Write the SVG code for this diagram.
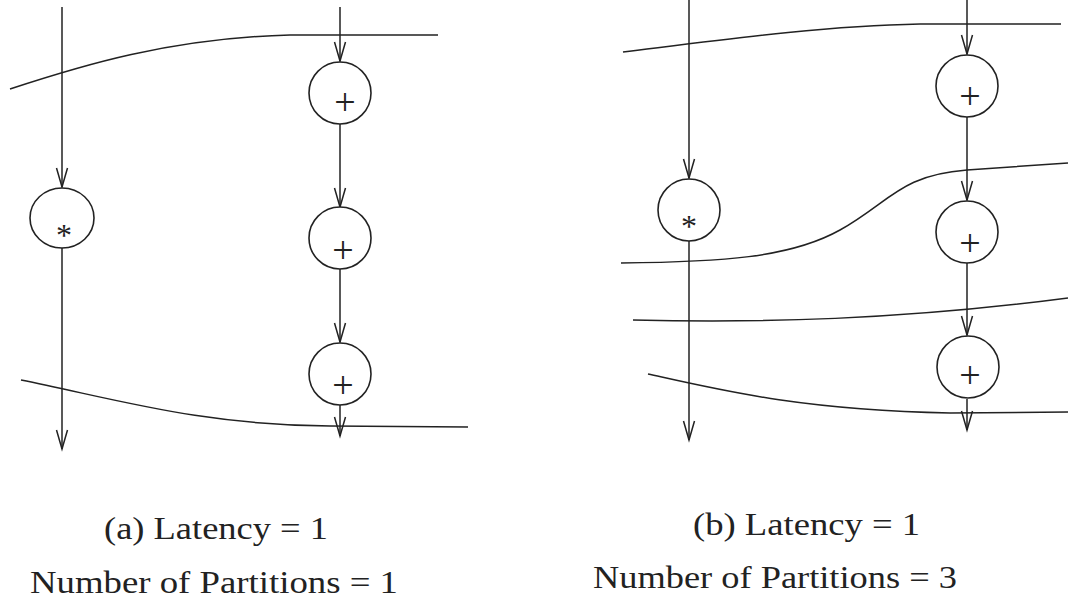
<svg xmlns="http://www.w3.org/2000/svg" width="1068" height="600" viewBox="0 0 1068 600">
  <style>
    .edge { stroke: #222; stroke-width: 1.5; fill: none; marker-end: url(#arr); }
    .part { stroke: #222; stroke-width: 1.5; fill: none; }
    .node { stroke: #222; stroke-width: 1.6; fill: #fff; }
    .op { font-family: "Liberation Serif", serif; fill: #222; text-anchor: middle; }
    .cap { font-family: "Liberation Serif", serif; font-size: 32px; fill: #222; }
  </style>
  <defs>
    <marker id="arr" markerUnits="userSpaceOnUse" viewBox="-22 -8 24 16" markerWidth="24" markerHeight="16" refX="0" refY="0" orient="auto" overflow="visible">
      <path d="M-19,-5.5 L0,0 L-19,5.5" fill="none" stroke="#222" stroke-width="1.5"/>
    </marker>
  </defs>
  <rect width="1068" height="600" fill="#fff"/>

  <g id="partitions">
    <path class="part" d="M10,89 C80,66 170,38 290,35 L438,35"/>
    <path class="part" d="M21,380 C120,400 200,425 330,426 L468,427"/>
    <path class="part" d="M623,52 C720,40 820,26 920,24 L1061,24"/>
    <path class="part" d="M621,263 C720,262 790,258 840,230 S900,175 967,170 L1068,163"/>
    <path class="part" d="M633,320 C760,323 900,320 1068,298"/>
    <path class="part" d="M648,374 C720,390 800,410 950,413 L1068,412"/>
  </g>

  <g id="connectors">
    <line class="edge" x1="62" y1="7" x2="62" y2="187"/>
    <line class="edge" x1="62" y1="248" x2="62" y2="449"/>
    <line class="edge" x1="340" y1="7" x2="340" y2="61"/>
    <line class="edge" x1="340" y1="124" x2="340" y2="207"/>
    <line class="edge" x1="340" y1="269" x2="340" y2="342"/>
    <line class="edge" x1="340" y1="405" x2="340" y2="436"/>
    <line class="edge" x1="689" y1="0" x2="689" y2="178"/>
    <line class="edge" x1="689" y1="241" x2="689" y2="440"/>
    <line class="edge" x1="967" y1="0" x2="967" y2="54"/>
    <line class="edge" x1="967" y1="117" x2="967" y2="200"/>
    <line class="edge" x1="967" y1="263" x2="967" y2="335"/>
    <line class="edge" x1="967" y1="399" x2="967" y2="430"/>
  </g>

  <g id="a-mul">
    <ellipse class="node" cx="62" cy="218" rx="32" ry="30"/>
    <text class="op" x="64" y="246" font-size="32">*</text>
  </g>
  <g id="a-add1">
    <circle class="node" cx="340" cy="93" r="31"/>
    <text class="op" x="345" y="115" font-size="38">+</text>
  </g>
  <g id="a-add2">
    <circle class="node" cx="340" cy="238" r="31"/>
    <text class="op" x="343" y="263" font-size="38">+</text>
  </g>
  <g id="a-add3">
    <circle class="node" cx="340" cy="374" r="31"/>
    <text class="op" x="343" y="398" font-size="38">+</text>
  </g>

  <g id="b-mul">
    <circle class="node" cx="689" cy="210" r="31"/>
    <text class="op" x="689" y="237" font-size="32">*</text>
  </g>
  <g id="b-add1">
    <circle class="node" cx="967" cy="86" r="31"/>
    <text class="op" x="970" y="109" font-size="38">+</text>
  </g>
  <g id="b-add2">
    <circle class="node" cx="967" cy="232" r="31"/>
    <text class="op" x="970" y="256" font-size="38">+</text>
  </g>
  <g id="b-add3">
    <circle class="node" cx="968" cy="367" r="31"/>
    <text class="op" x="970" y="388" font-size="38">+</text>
  </g>

  <g id="captions">
    <text class="cap" x="104" y="539" textLength="224" lengthAdjust="spacingAndGlyphs">(a) Latency = 1</text>
    <text class="cap" x="30" y="593" textLength="368" lengthAdjust="spacingAndGlyphs">Number of Partitions = 1</text>
    <text class="cap" x="693" y="535" textLength="227" lengthAdjust="spacingAndGlyphs">(b) Latency = 1</text>
    <text class="cap" x="593" y="588" textLength="364" lengthAdjust="spacingAndGlyphs">Number of Partitions = 3</text>
  </g>
</svg>
